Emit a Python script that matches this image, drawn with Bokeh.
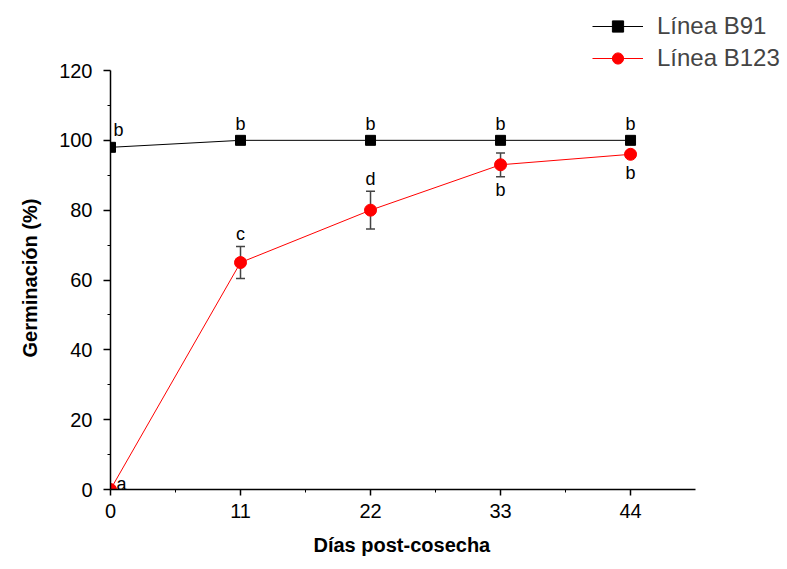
from bokeh.plotting import figure
from bokeh.models import (ColumnDataSource, FixedTicker, Whisker, TeeHead,
                          Legend, LegendItem, Range1d, Title)
from bokeh.embed import file_html
from bokeh.resources import INLINE
from bokeh.core.properties import value

# ---- data ----
days = [0, 11, 22, 33, 44]
b91 = [98, 100, 100, 100, 100]
b123 = [0, 65, 80, 93, 96]
b123_err = [0, 4.6, 5.4, 3.4, 0]
b91_letters = ["b", "b", "b", "b", "b"]
b123_letters = ["a", "c", "d", "b", "b"]
x_ticks = [0, 11, 22, 33, 44]
x_minor = [5.5, 16.5, 27.5, 38.5]
y_ticks = [0, 20, 40, 60, 80, 100, 120]
y_minor = [10, 30, 50, 70, 90, 110]
x_label = "Días post-cosecha"
y_label = "Germinación (%)"
series_names = ["Línea B91", "Línea B123"]

# label placement (style)
b91_dx = [8, 0, 0, 0, 0]
b91_dy = [-17, -16, -16, -16, -16]
b123_dx = [11, 0, 0, 0, 0]
b123_dy = [-6, -29, -31, 25, 19]

FONT = "Liberation Sans"

# frame extends over the legend area; axis lines limited with bounds
p = figure(width=787, height=569, output_backend="svg", toolbar_location=None,
           x_range=Range1d(0, 57.28), y_range=Range1d(0, 140.05),
           min_border_left=110, min_border_top=0, min_border_right=0,
           min_border_bottom=80)
p.outline_line_color = None
p.xgrid.grid_line_color = None
p.ygrid.grid_line_color = None
p.background_fill_color = "white"
p.border_fill_color = "white"

for ax in (p.xaxis[0], p.yaxis[0]):
    ax.axis_line_color = "black"
    ax.axis_line_width = 1.5
    ax.major_tick_line_color = "black"
    ax.major_tick_line_width = 1.5
    ax.minor_tick_line_color = "black"
    ax.minor_tick_line_width = 1
    ax.major_tick_in = 0
    ax.minor_tick_in = 0
    ax.major_label_text_font = FONT
    ax.major_label_text_font_size = "20px"
    ax.major_label_text_color = "black"

p.xaxis.bounds = (0, 49.5)
p.yaxis.bounds = (0, 120)
p.xaxis.ticker = FixedTicker(ticks=x_ticks, minor_ticks=x_minor)
p.yaxis.ticker = FixedTicker(ticks=y_ticks, minor_ticks=y_minor)
p.xaxis.major_tick_out = 6
p.xaxis.minor_tick_out = 3
p.yaxis.major_tick_out = 7
p.yaxis.minor_tick_out = 3
p.xaxis.major_label_standoff = 8
p.yaxis.major_label_standoff = 11

xt = Title(text=x_label, align="left", offset=203, standoff=22,
           text_font=FONT, text_font_size="20px", text_font_style="bold",
           text_color="black")
p.add_layout(xt, "below")
yt = Title(text=y_label, align="left", offset=132, standoff=31,
           text_font=FONT, text_font_size="20px", text_font_style="bold",
           text_color="black")
p.add_layout(yt, "left")

src91 = ColumnDataSource(dict(x=days, y=b91, t=b91_letters, dx=b91_dx, dy=b91_dy))
src123 = ColumnDataSource(dict(x=days, y=b123, t=b123_letters, dx=b123_dx, dy=b123_dy))
err_idx = [i for i, e in enumerate(b123_err) if e > 0]
src_err = ColumnDataSource(dict(x=[days[i] for i in err_idx],
                                lo=[b123[i] - b123_err[i] for i in err_idx],
                                hi=[b123[i] + b123_err[i] for i in err_idx]))

w = Whisker(source=src_err, base="x", lower="lo", upper="hi",
            line_color="#444444", line_width=1.5, level="underlay",
            upper_head=TeeHead(size=9, line_color="#444444", line_width=1.5),
            lower_head=TeeHead(size=9, line_color="#444444", line_width=1.5))
p.add_layout(w)

l91 = p.line("x", "y", source=src91, line_color="black", line_width=1)
s91 = p.scatter("x", "y", source=src91, marker="square", size=10,
                fill_color="black", line_color="black")
l123 = p.line("x", "y", source=src123, line_color="#ff0000", line_width=1)
s123 = p.scatter("x", "y", source=src123, marker="circle", size=12,
                 fill_color="#ff0000", line_color="#ff0000")

p.text("x", "y", text="t", source=src91, x_offset="dx", y_offset="dy",
       text_align="center", text_baseline="middle", text_font=value(FONT),
       text_font_size="18px", text_color="black")
p.text("x", "y", text="t", source=src123, x_offset="dx", y_offset="dy",
       text_align="center", text_baseline="middle", text_font=value(FONT),
       text_font_size="18px", text_color="black")

legend = Legend(items=[LegendItem(label=series_names[0], renderers=[l91, s91]),
                       LegendItem(label=series_names[1], renderers=[l123, s123])],
                location=(482, 417), border_line_color=None,
                background_fill_alpha=0, glyph_width=51, glyph_height=28,
                label_height=28, label_text_font=FONT,
                label_text_font_size="24px", label_standoff=14,
                spacing=4, padding=0, margin=0)
p.add_layout(legend, "center")

open("out.html", "w").write(file_html(p, INLINE))
